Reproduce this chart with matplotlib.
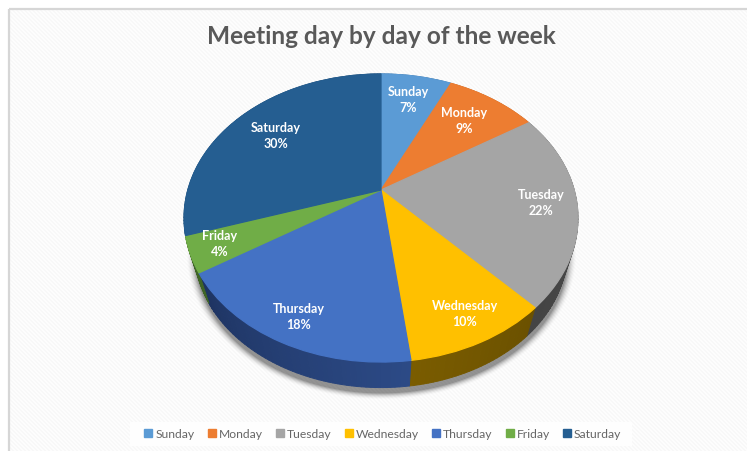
import numpy as np
import matplotlib
matplotlib.use("Agg")
import matplotlib.pyplot as plt
from matplotlib.transforms import Transform
from matplotlib.patches import Polygon, Rectangle
from matplotlib.lines import Line2D

days = ["Sunday", "Monday", "Tuesday", "Wednesday", "Thursday", "Friday", "Saturday"]
shares = [7, 9, 22, 10, 18, 4, 30]
colors = ["#5B9BD5", "#ED7D31", "#A5A5A5", "#FFC000", "#4472C4", "#70AD47", "#255E91"]
wall_start = ["#3a6a95", "#a5561f", "#4e4e4e", "#6b5100", "#2c4a86", "#3f6426", "#1a4266"]
wall_end = ["#3a6a95", "#a5561f", "#444444", "#7a5c00", "#1e3462", "#3f6426", "#1a4266"]
label_x = [408, 464, 541, 465, 299, 220, 276]
label_y = [100, 121, 203, 314, 317, 244, 136]
title = "Meeting day by day of the week"

W, H = 747, 451
plt.rcParams["font.family"] = ["Lato", "DejaVu Sans"]
fig = plt.figure(figsize=(W / 100, H / 100), dpi=100, facecolor="white")
ax = fig.add_axes([0, 0, 1, 1])


class Tilt(Transform):
    """Projective view of the unit-radius pie, in pixel coordinates."""
    input_dims = output_dims = 2
    is_separable = False
    has_inverse = False

    def __init__(self, cx, cy, a, b, k):
        super().__init__()
        self.p = (cx, cy, a, b, k)

    def transform_non_affine(self, v):
        cx, cy, a, b, k = self.p
        v = np.asarray(v, float)
        d = 1 + k * v[:, 1]
        return np.column_stack([cx + a * v[:, 0] / d, cy - b * v[:, 1] / d])


top = Tilt(381, 190, 193.2, 138.6, 0.1944)
low = Tilt(381, 225, 193.2 * 0.945, 138.6 * 0.945, 0.1944)

# textured background
yy, xx = np.mgrid[0:H, 0:W]
stripe = 0.975 + 0.02 * (np.sin((xx - yy) * 2 * np.pi / 4.0 + 0.8) > 0)
bg = np.dstack([stripe] * 3)
bg[(xx < 10) | (yy < 10)] = 1.0
ax.imshow(bg, extent=(0, W, H, 0), aspect="auto", zorder=0, interpolation="nearest")
ax.add_patch(Rectangle((9, 9), W, H, fc="none", ec="#d6d6d6", lw=1.6, zorder=1))

# soft drop shadow under the pie
d = np.hypot((xx - 381) / 191.0, (yy - 255) / 141.0)
edge = np.clip((1.0 - d) / 0.05 + 0.5, 0, 1)
shadow = np.zeros((H, W, 4))
shadow[..., 3] = 0.42 * edge ** 2
ax.imshow(shadow, extent=(0, W, H, 0), aspect="auto", zorder=2, interpolation="nearest")

# side wall: strips overlap slightly so no seams show
edges = np.cumsum([0] + shares) / 100 * 2 * np.pi
for i in range(len(shares)):
    th = np.linspace(edges[i], edges[i + 1], max(int(shares[i] * 3), 4))
    c0 = np.array(matplotlib.colors.to_rgb(wall_start[i]))
    c1 = np.array(matplotlib.colors.to_rgb(wall_end[i]))
    for j in range(len(th) - 1):
        unit = np.column_stack([np.sin(th[j:j + 2]), np.cos(th[j:j + 2])])
        pts = np.vstack([top.transform(unit), low.transform(unit)[::-1]])
        f = j / max(len(th) - 2, 1)
        col = c0 + (c1 - c0) * f
        ax.add_patch(Polygon(pts, closed=True, fc=col, ec=col, lw=0.7, zorder=3))

# top face: an edge in each wedge's own colour hides the wall strips along the rim
wedges, _ = ax.pie(shares, colors=colors, startangle=90, counterclock=False, radius=1)
for w, c in zip(wedges, colors):
    w.set_transform(top + ax.transData)
    w.set_zorder(4)
    w.set_edgecolor(c)
    w.set_linewidth(0.9)

ax.set_aspect("auto")
ax.set_xlim(0, W)
ax.set_ylim(H, 0)
ax.axis("off")

for day, share, x, y in zip(days, shares, label_x, label_y):
    ax.text(x, y, f"{day}\n{share}%", color="white", fontsize=9, fontweight="bold",
            ha="center", va="center", linespacing=1.42, zorder=6)

ax.text(381, 37, title, color="#595959", fontsize=17.6, fontweight="bold",
        ha="center", va="center", zorder=6)

ax.add_patch(Rectangle((130, 422), 502, 24, fc="white", ec="none", alpha=0.9, zorder=5))
handles = [Line2D([], [], ls="none", marker="s", ms=5.8, mfc=c, mec=c) for c in colors]
leg = ax.legend(handles, days, ncols=7, loc="center", bbox_to_anchor=(383, 434),
                bbox_transform=ax.transData, frameon=False, fontsize=8.7, labelcolor="#666666",
                handlelength=0.65, handletextpad=0.25, columnspacing=1.1, borderpad=0.0)
leg.set_zorder(6)

fig.savefig("out.png", dpi=100, facecolor="white")
